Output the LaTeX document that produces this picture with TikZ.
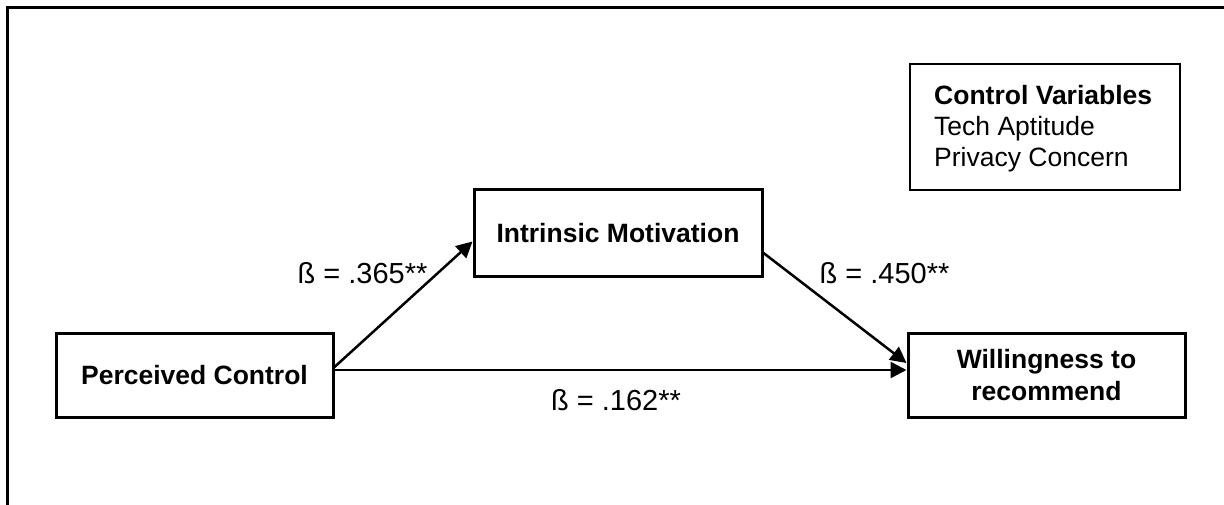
\documentclass[tikz,border=0pt]{standalone}
\usepackage{fontspec}
\setmainfont{Liberation Sans}
\usetikzlibrary{arrows.meta}
\begin{document}
\begin{tikzpicture}[x=1pt,y=-1pt,
  boxnode/.style={draw, line width=3pt, inner sep=0pt, font=\fontsize{26.5}{32}\selectfont\bfseries, align=center},
  legendbox/.style={draw, line width=2.5pt, inner sep=0pt},
  legendtext/.style={inner sep=0pt, font=\fontsize{26.5}{31}\selectfont, align=left},
  coef/.style={inner sep=0pt, font=\fontsize{29}{34}\selectfont},
  link/.style={line width=2.5pt, -{Triangle[length=16pt,width=16pt]}},
  frameline/.style={line width=3pt}
  ]
\useasboundingbox (0,0) rectangle (1224,505);

% partial frame: top and left edges
\coordinate (fbl) at (7,505);
\coordinate (ftl) at (7,8);
\coordinate (ftr) at (1224,8);
\draw[frameline] (fbl) -- (ftl) -- (ftr);

% model constructs
\node[boxnode, minimum width=277pt, minimum height=84pt] (pc) at (194.5,375) {Perceived Control};
\node[boxnode, minimum width=288pt, minimum height=87pt] (im) at (618,233.5) {Intrinsic Motivation};
\node[boxnode, minimum width=277pt, minimum height=84pt] (wr) at (1046.5,375) {Willingness to\\recommend};

% control variables
\node[legendbox, minimum width=270pt, minimum height=126pt] (cv) at (1045,127) {};
\node[legendtext, anchor=west] (cvlabel) at (934,129) {\textbf{Control Variables}\\Tech Aptitude\\Privacy Concern};

% paths
\draw[link] ([yshift=8pt]pc.east) -- ([yshift=-8pt]im.west);
\draw[link] ([yshift=-19.5pt]im.east) -- ([yshift=12pt]wr.west);
\draw[link] ([yshift=5pt]pc.east) -- ([yshift=5pt]wr.west);

% coefficients
\node[coef] (c1) at (362.5,273) {ß = .365**};
\node[coef] (c2) at (884.5,273) {ß = .450**};
\node[coef] (c3) at (616,400) {ß = .162**};
\end{tikzpicture}
\end{document}
